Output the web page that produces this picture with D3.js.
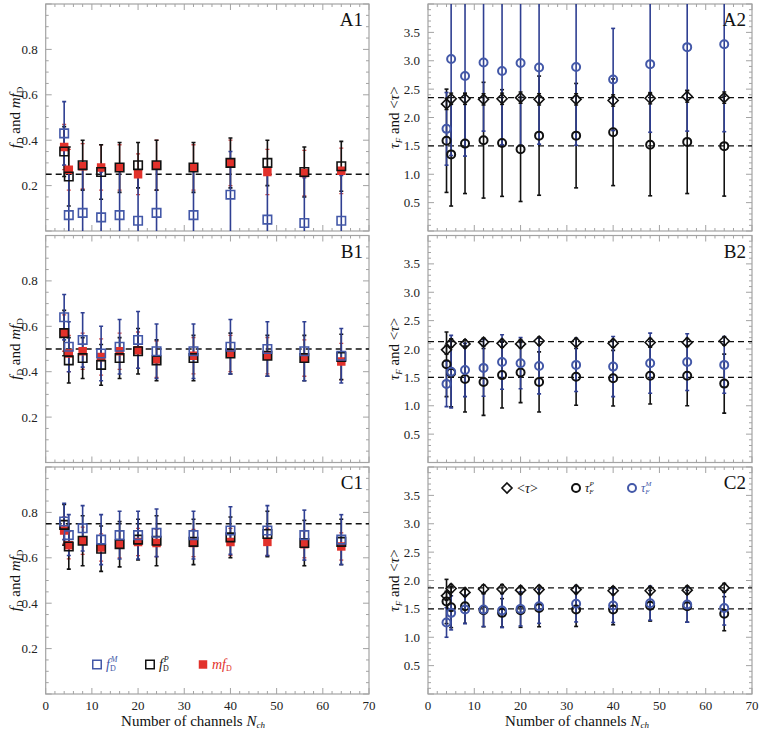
<!DOCTYPE html>
<html>
<head>
<meta charset="utf-8">
<script src="https://cdn.jsdelivr.net/npm/d3@7"></script>
<style>
  body { margin: 0; background: #fff; }
  svg { display: block; }
  svg text { font-family: "Liberation Serif", "Times New Roman", "DejaVu Serif", serif; }
</style>
</head>
<body>
<svg id="chart" width="760" height="734"></svg>
<script>
// Number of channels (shared x values)
const nch = [4, 5, 8, 12, 16, 20, 24, 32, 40, 48, 56, 64];

// ---- left column: f_D^M, f_D^P, mf_D ----
const a1FM    = [0.43, 0.07, 0.08, 0.06, 0.07, 0.045, 0.08, 0.07, 0.16, 0.05, 0.035, 0.045];
const a1FMerr = [0.14, 0.2, 0.2, 0.2, 0.2, 0.2, 0.2, 0.2, 0.19, 0.2, 0.2, 0.2];
const a1FP    = [0.35, 0.24, 0.29, 0.26, 0.28, 0.29, 0.29, 0.28, 0.30, 0.30, 0.26, 0.285];
const a1FPerr = [0.11, 0.13, 0.11, 0.12, 0.11, 0.10, 0.11, 0.11, 0.11, 0.10, 0.11, 0.11];
const a1MF    = [0.37, 0.27, 0.285, 0.28, 0.28, 0.25, 0.29, 0.28, 0.30, 0.26, 0.255, 0.265];
const a1MFerr = [0.10, 0.09, 0.10, 0.10, 0.10, 0.09, 0.11, 0.10, 0.10, 0.10, 0.10, 0.10];

const b1FM    = [0.64, 0.51, 0.54, 0.48, 0.51, 0.54, 0.49, 0.49, 0.51, 0.50, 0.49, 0.47];
const b1FMerr = [0.10, 0.11, 0.12, 0.12, 0.12, 0.125, 0.12, 0.12, 0.12, 0.12, 0.13, 0.12];
const b1FP    = [0.57, 0.45, 0.46, 0.43, 0.46, 0.49, 0.45, 0.46, 0.48, 0.47, 0.46, 0.465];
const b1FPerr = [0.10, 0.10, 0.09, 0.09, 0.09, 0.10, 0.09, 0.10, 0.09, 0.09, 0.10, 0.10];
const b1MF    = [0.57, 0.48, 0.49, 0.465, 0.49, 0.495, 0.455, 0.47, 0.48, 0.47, 0.46, 0.445];
const b1MFerr = [0.08, 0.08, 0.08, 0.08, 0.08, 0.08, 0.08, 0.08, 0.08, 0.08, 0.08, 0.08];

const c1FM    = [0.76, 0.70, 0.73, 0.68, 0.70, 0.70, 0.71, 0.70, 0.72, 0.72, 0.70, 0.68];
const c1FMerr = [0.08, 0.09, 0.10, 0.11, 0.105, 0.105, 0.105, 0.105, 0.105, 0.11, 0.11, 0.11];
const c1FP    = [0.745, 0.65, 0.675, 0.64, 0.66, 0.68, 0.675, 0.67, 0.69, 0.705, 0.665, 0.67];
const c1FPerr = [0.09, 0.10, 0.11, 0.10, 0.10, 0.09, 0.11, 0.10, 0.09, 0.10, 0.10, 0.10];
const c1MF    = [0.72, 0.655, 0.675, 0.645, 0.66, 0.67, 0.665, 0.665, 0.67, 0.67, 0.66, 0.65];
const c1MFerr = [0.06, 0.06, 0.06, 0.06, 0.06, 0.06, 0.06, 0.06, 0.06, 0.06, 0.06, 0.06];

// ---- right column: <tau>, tau_F^P, tau_F^M ----
const a2Tau    = [2.24, 2.33, 2.33, 2.32, 2.33, 2.35, 2.32, 2.32, 2.30, 2.34, 2.37, 2.35];
const a2TauErr = [0.10, 0.10, 0.10, 0.10, 0.10, 0.10, 0.10, 0.10, 0.10, 0.10, 0.10, 0.10];
const a2TP     = [1.59, 1.35, 1.54, 1.60, 1.55, 1.44, 1.68, 1.68, 1.74, 1.52, 1.57, 1.495];
const a2TPerr  = [0.91, 0.91, 0.88, 1.02, 0.94, 0.92, 1.05, 0.92, 0.94, 0.90, 0.91, 0.88];
const a2TM     = [1.80, 3.03, 2.73, 2.97, 2.82, 2.96, 2.88, 2.89, 2.67, 2.94, 3.24, 3.29];
const a2TMerr  = [0.64, 1.70, 1.41, 1.21, 1.30, 1.45, 1.35, 1.38, 0.90, 1.20, 1.48, 1.54];

const b2Tau    = [1.985, 2.10, 2.09, 2.12, 2.10, 2.09, 2.14, 2.115, 2.10, 2.115, 2.115, 2.14];
const b2TauErr = [0.08, 0.07, 0.07, 0.07, 0.07, 0.07, 0.07, 0.07, 0.07, 0.07, 0.07, 0.07];
const b2TP     = [1.73, 1.58, 1.47, 1.42, 1.54, 1.585, 1.42, 1.51, 1.485, 1.53, 1.53, 1.39];
const b2TPerr  = [0.57, 0.60, 0.58, 0.59, 0.58, 0.53, 0.53, 0.50, 0.49, 0.50, 0.53, 0.52];
const b2TM     = [1.385, 1.60, 1.63, 1.667, 1.77, 1.75, 1.70, 1.72, 1.69, 1.75, 1.77, 1.72];
const b2TMerr  = [0.40, 0.64, 0.47, 0.50, 0.48, 0.45, 0.49, 0.47, 0.53, 0.53, 0.50, 0.50];

const c2Tau    = [1.73, 1.86, 1.79, 1.85, 1.85, 1.83, 1.84, 1.84, 1.82, 1.82, 1.83, 1.87];
const c2TauErr = [0.08, 0.07, 0.07, 0.07, 0.08, 0.07, 0.07, 0.07, 0.07, 0.07, 0.07, 0.08];
const c2TP     = [1.63, 1.53, 1.545, 1.475, 1.43, 1.475, 1.515, 1.49, 1.49, 1.555, 1.545, 1.415];
const c2TPerr  = [0.39, 0.36, 0.30, 0.29, 0.25, 0.30, 0.33, 0.30, 0.27, 0.27, 0.28, 0.30];
const c2TM     = [1.26, 1.43, 1.49, 1.49, 1.47, 1.50, 1.545, 1.59, 1.56, 1.60, 1.575, 1.515];
const c2TMerr  = [0.26, 0.30, 0.25, 0.30, 0.30, 0.30, 0.30, 0.32, 0.30, 0.30, 0.31, 0.30];

// dashed reference levels per panel
const leftRefs  = [[0.25], [0.5], [0.75]];
const rightRefs = [[2.35, 1.5], [2.13, 1.5], [1.87, 1.5]];
const panelNames = [["A1", "A2"], ["B1", "B2"], ["C1", "C2"]];

const xTickLabels = [0, 10, 20, 30, 40, 50, 60, 70];
const leftTickLabels = [0.2, 0.4, 0.6, 0.8];
const rightTickLabels = [0.5, 1.0, 1.5, 2.0, 2.5, 3.0, 3.5];

// colors
const BLUE = "#4358a8", BLUE_BAR = "#2f3f92", RED = "#e2312b", RED_BAR = "#d04848", FRAME = "#a3a3a3";

const svg = d3.select("#chart");

// layout
const rowTops = [4, 235.5, 467];
const rowH = 227;
const colX = [[45.7, 369], [428, 752]];

const zip = (v, e) => nch.map((x, i) => ({ x, v: v[i], e: e[i] }));

function drawFrame(g, x, y, yMinorStep, isMajor, fmt, showXLabels) {
  const [x0, x1] = x.range();
  const [yb, yt] = y.range();
  const xt = d3.range(0, 70.001, 2);
  const yt2 = d3.range(0, y.domain()[1] + 1e-6, yMinorStep);
  const tk = g.append("g").attr("stroke", FRAME).attr("stroke-width", 1);

  tk.selectAll(null).data(xt).join("line")
    .attr("x1", d => x(d)).attr("x2", d => x(d))
    .attr("y1", yb).attr("y2", d => yb - (d % 10 === 0 ? 6 : 3));
  tk.selectAll(null).data(xt).join("line")
    .attr("x1", d => x(d)).attr("x2", d => x(d))
    .attr("y1", yt).attr("y2", d => yt + (d % 10 === 0 ? 6 : 3));
  tk.selectAll(null).data(yt2).join("line")
    .attr("y1", d => y(d)).attr("y2", d => y(d))
    .attr("x1", x0).attr("x2", d => x0 + (isMajor(d) ? 6 : 3));
  tk.selectAll(null).data(yt2).join("line")
    .attr("y1", d => y(d)).attr("y2", d => y(d))
    .attr("x1", x1).attr("x2", d => x1 - (isMajor(d) ? 6 : 3));

  g.append("rect")
    .attr("x", x0).attr("y", yt).attr("width", x1 - x0).attr("height", yb - yt)
    .attr("fill", "none").attr("stroke", FRAME).attr("stroke-width", 1.2);

  g.append("g").selectAll(null).data(fmt.ticks).join("text")
    .attr("x", x0 - 8).attr("y", d => y(d)).attr("dy", "0.35em")
    .attr("text-anchor", "end").attr("font-size", 13).attr("fill", "#222")
    .text(fmt.f);

  if (showXLabels) {
    g.append("g").selectAll(null).data(xTickLabels).join("text")
      .attr("x", d => x(d)).attr("y", yb + 16)
      .attr("text-anchor", "middle").attr("font-size", 13).attr("fill", "#222")
      .text(d => d);
  }
}

function errorBars(g, data, y, x, color, width) {
  const bars = g.append("g").attr("stroke", color).attr("stroke-width", width);
  bars.selectAll(null).data(data).join("line")
    .attr("x1", d => x(d.x)).attr("x2", d => x(d.x))
    .attr("y1", d => y(d.v - d.e)).attr("y2", d => y(d.v + d.e));
  bars.selectAll(null).data(data.flatMap(d => [{ x: d.x, y: d.v - d.e }, { x: d.x, y: d.v + d.e }])).join("line")
    .attr("x1", d => x(d.x) - 2).attr("x2", d => x(d.x) + 2)
    .attr("y1", d => y(d.y)).attr("y2", d => y(d.y));
}

function refLines(g, x, y, refs) {
  g.append("g").selectAll(null).data(refs).join("line")
    .attr("x1", x.range()[0]).attr("x2", x.range()[1])
    .attr("y1", d => y(d)).attr("y2", d => y(d))
    .attr("stroke", "#111").attr("stroke-width", 1.3).attr("stroke-dasharray", "6,4");
}

function panelLabel(g, x, y, name) {
  g.append("text")
    .attr("x", x.range()[1] - 6).attr("y", y.range()[1] + 22)
    .attr("text-anchor", "end").attr("font-size", 19).attr("fill", "#111")
    .text(name);
}

const squareSym = d3.symbol().type(d3.symbolSquare).size(72);
const diamondPath = "M0,-5L5,0L0,5L-5,0Z";

// ---------- left panels ----------
const leftSets = [
  { fm: zip(a1FM, a1FMerr), fp: zip(a1FP, a1FPerr), mf: zip(a1MF, a1MFerr) },
  { fm: zip(b1FM, b1FMerr), fp: zip(b1FP, b1FPerr), mf: zip(b1MF, b1MFerr) },
  { fm: zip(c1FM, c1FMerr), fp: zip(c1FP, c1FPerr), mf: zip(c1MF, c1MFerr) }
];

leftSets.forEach((s, r) => {
  const x = d3.scaleLinear().domain([0, 70]).range(colX[0]);
  const y = d3.scaleLinear().domain([0, 1]).range([rowTops[r] + rowH, rowTops[r]]);
  const g = svg.append("g");
  const clipId = "clipL" + r;
  g.append("clipPath").attr("id", clipId).append("rect")
    .attr("x", colX[0][0]).attr("y", rowTops[r]).attr("width", colX[0][1] - colX[0][0]).attr("height", rowH);

  drawFrame(g, x, y, 0.05, d => Math.round(d * 100) % 20 === 0,
    { ticks: leftTickLabels, f: d => d.toFixed(1) }, r === 2);

  const plot = g.append("g").attr("clip-path", `url(#${clipId})`);
  refLines(plot, x, y, leftRefs[r]);
  errorBars(plot, s.mf, y, x, RED_BAR, 1.3);
  errorBars(plot, s.fp, y, x, "#111", 1.6);
  errorBars(plot, s.fm, y, x, BLUE_BAR, 1.6);

  plot.selectAll(null).data(s.mf).join("path")
    .attr("d", squareSym).attr("transform", d => `translate(${x(d.x)},${y(d.v)})`)
    .attr("fill", RED);
  plot.selectAll(null).data(s.fp).join("path")
    .attr("d", squareSym).attr("transform", d => `translate(${x(d.x)},${y(d.v)})`)
    .attr("fill", "none").attr("stroke", "#111").attr("stroke-width", 1.6);
  plot.selectAll(null).data(s.fm).join("path")
    .attr("d", squareSym).attr("transform", d => `translate(${x(d.x)},${y(d.v)})`)
    .attr("fill", "none").attr("stroke", BLUE).attr("stroke-width", 1.6);

  panelLabel(g, x, y, panelNames[r][0]);

  // y axis label
  const lab = g.append("text")
    .attr("transform", `translate(20,${rowTops[r] + rowH / 2}) rotate(-90)`)
    .attr("text-anchor", "middle").attr("font-size", 15).attr("fill", "#111");
  lab.append("tspan").attr("font-style", "italic").text("f");
  lab.append("tspan").attr("font-size", 9).attr("dy", 3).text("D");
  lab.append("tspan").attr("dy", -3).text(" and ");
  lab.append("tspan").attr("font-style", "italic").text("mf");
  lab.append("tspan").attr("font-size", 9).attr("dy", 3).text("D");
});

// ---------- right panels ----------
const rightSets = [
  { tau: zip(a2Tau, a2TauErr), tp: zip(a2TP, a2TPerr), tm: zip(a2TM, a2TMerr) },
  { tau: zip(b2Tau, b2TauErr), tp: zip(b2TP, b2TPerr), tm: zip(b2TM, b2TMerr) },
  { tau: zip(c2Tau, c2TauErr), tp: zip(c2TP, c2TPerr), tm: zip(c2TM, c2TMerr) }
];

rightSets.forEach((s, r) => {
  const x = d3.scaleLinear().domain([0, 70]).range(colX[1]);
  const y = d3.scaleLinear().domain([0, 4]).range([rowTops[r] + rowH, rowTops[r]]);
  const g = svg.append("g");
  const clipId = "clipR" + r;
  g.append("clipPath").attr("id", clipId).append("rect")
    .attr("x", colX[1][0]).attr("y", rowTops[r]).attr("width", colX[1][1] - colX[1][0]).attr("height", rowH);

  drawFrame(g, x, y, 0.1, d => Math.round(d * 10) % 5 === 0,
    { ticks: rightTickLabels, f: d => d.toFixed(1) }, r === 2);

  const plot = g.append("g").attr("clip-path", `url(#${clipId})`);
  refLines(plot, x, y, rightRefs[r]);
  errorBars(plot, s.tp, y, x, "#111", 1.6);
  errorBars(plot, s.tm, y, x, BLUE_BAR, 1.6);
  errorBars(plot, s.tau, y, x, "#111", 1.4);

  plot.selectAll(null).data(s.tp).join("circle")
    .attr("cx", d => x(d.x)).attr("cy", d => y(d.v)).attr("r", 4)
    .attr("fill", "none").attr("stroke", "#111").attr("stroke-width", 2);
  plot.selectAll(null).data(s.tm).join("circle")
    .attr("cx", d => x(d.x)).attr("cy", d => y(d.v)).attr("r", 4)
    .attr("fill", "none").attr("stroke", BLUE).attr("stroke-width", 2);
  plot.selectAll(null).data(s.tau).join("path")
    .attr("d", diamondPath).attr("transform", d => `translate(${x(d.x)},${y(d.v)})`)
    .attr("fill", "none").attr("stroke", "#111").attr("stroke-width", 1.6);

  panelLabel(g, x, y, panelNames[r][1]);

  const lab = g.append("text")
    .attr("transform", `translate(399,${rowTops[r] + rowH / 2}) rotate(-90)`)
    .attr("text-anchor", "middle").attr("font-size", 15).attr("fill", "#111");
  lab.append("tspan").attr("font-style", "italic").text("τ");
  lab.append("tspan").attr("font-size", 9).attr("font-style", "italic").attr("dy", 3).text("F");
  lab.append("tspan").attr("dy", -3).text(" and <");
  lab.append("tspan").attr("font-style", "italic").text("τ");
  lab.append("tspan").text(">");
});

// ---------- x axis titles ----------
[193, 577].forEach(cx => {
  const t = svg.append("text").attr("x", cx).attr("y", 726)
    .attr("text-anchor", "middle").attr("font-size", 15).attr("fill", "#111");
  t.append("tspan").text("Number of channels ");
  t.append("tspan").attr("font-style", "italic").text("N");
  t.append("tspan").attr("font-style", "italic").attr("font-size", 9).attr("dy", 2).text("ch");
});

// ---------- legends ----------
{
  const ly = rowTops[2] + rowH - 0.13 * rowH;
  const lg = svg.append("g").attr("font-size", 14);
  const items = [
    { x: 97, kind: "open", color: BLUE, main: "f", sub: "D", sup: "M" },
    { x: 150, kind: "open", color: "#111", main: "f", sub: "D", sup: "P" },
    { x: 203, kind: "filled", color: RED, main: "mf", sub: "D", sup: null }
  ];
  items.forEach(it => {
    lg.append("path").attr("d", squareSym).attr("transform", `translate(${it.x},${ly})`)
      .attr("fill", it.kind === "filled" ? it.color : "none")
      .attr("stroke", it.kind === "filled" ? "none" : it.color).attr("stroke-width", 1.5);
    const t = lg.append("text").attr("x", it.x + 9).attr("y", ly + 5).attr("fill", it.color);
    t.append("tspan").attr("font-style", "italic").text(it.main);
    t.append("tspan").attr("font-size", 8).attr("dy", 2).text(it.sub);
    if (it.sup) t.append("tspan").attr("font-size", 8).attr("dx", -5).attr("dy", -9).attr("font-style", "italic").text(it.sup);
  });
}
{
  const ly = rowTops[2] + 21;
  const lg = svg.append("g").attr("font-size", 14);
  lg.append("path").attr("d", diamondPath).attr("transform", `translate(507,${ly})`)
    .attr("fill", "none").attr("stroke", "#111").attr("stroke-width", 1.6);
  const t0 = lg.append("text").attr("x", 517).attr("y", ly + 5).attr("fill", "#111");
  t0.append("tspan").text("<");
  t0.append("tspan").attr("font-style", "italic").text("τ");
  t0.append("tspan").text(">");

  [{ x: 576, color: "#111", sup: "P" }, { x: 632, color: BLUE, sup: "M" }].forEach(it => {
    lg.append("circle").attr("cx", it.x).attr("cy", ly).attr("r", 4)
      .attr("fill", "none").attr("stroke", it.color).attr("stroke-width", 2);
    const t = lg.append("text").attr("x", it.x + 9).attr("y", ly + 4).attr("fill", it.color);
    t.append("tspan").attr("font-style", "italic").attr("font-size", 12).text("τ");
    t.append("tspan").attr("font-style", "italic").attr("font-size", 7).attr("dy", 2).text("F");
    t.append("tspan").attr("font-style", "italic").attr("font-size", 7).attr("dx", -4).attr("dy", -8).text(it.sup);
  });
}
</script>
</body>
</html>
